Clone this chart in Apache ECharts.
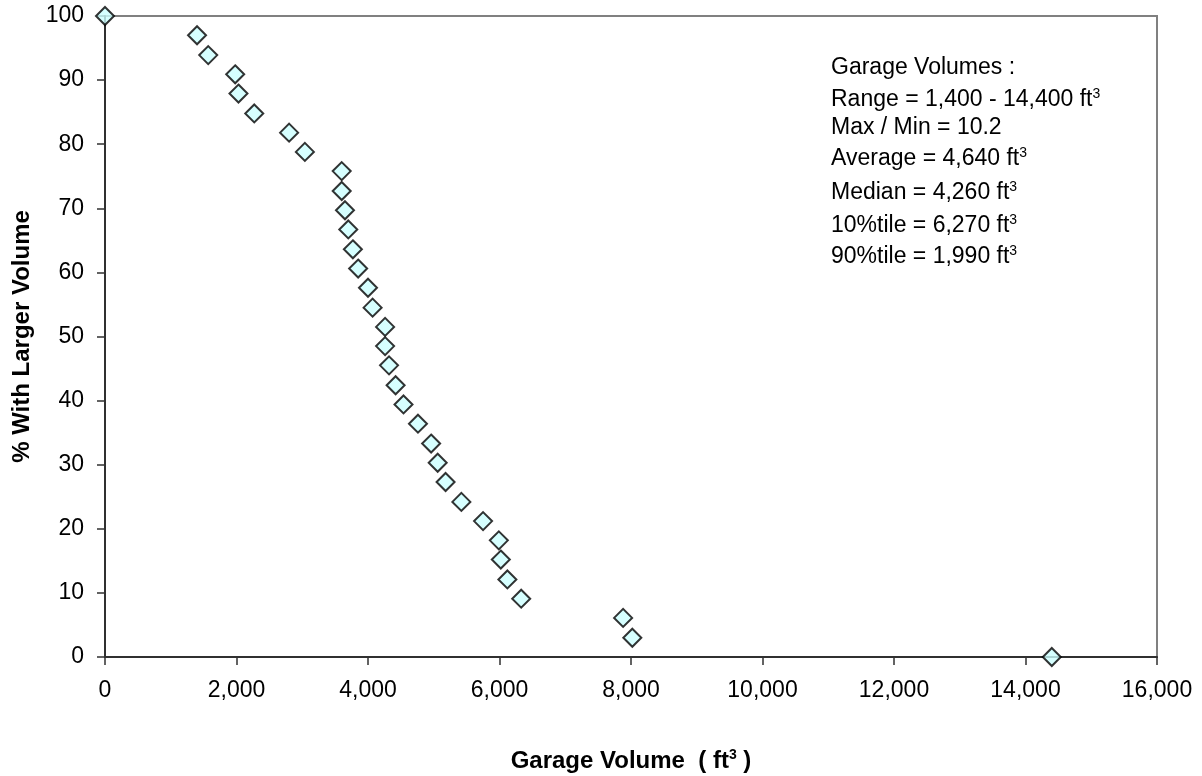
<!DOCTYPE html>
<html>
<head>
<meta charset="utf-8">
<script src="https://cdn.jsdelivr.net/npm/echarts@6/dist/echarts.min.js"></script>
<style>
  html, body { margin: 0; padding: 0; background: #ffffff; }
  #chart { width: 1202px; height: 776px; }
</style>
</head>
<body>
<div id="chart"></div>
<script>
// Garage volume (ft³) of each house, sorted, and the share of houses with a larger garage
const garageVolume = [0, 1400, 1570, 1980, 2030, 2270, 2800, 3040, 3600, 3600, 3650, 3700, 3770, 3850, 4000, 4070, 4260, 4260, 4320, 4420, 4540, 4760, 4960, 5060, 5180, 5420, 5750, 5990, 6020, 6120, 6330, 7880, 8020, 14400];
const pctLarger = [100, 97.0, 93.9, 90.9, 87.9, 84.8, 81.8, 78.8, 75.8, 72.7, 69.7, 66.7, 63.6, 60.6, 57.6, 54.5, 51.5, 48.5, 45.5, 42.4, 39.4, 36.4, 33.3, 30.3, 27.3, 24.2, 21.2, 18.2, 15.2, 12.1, 9.1, 6.1, 3.0, 0];

// Axis ticks
const xTicks = [0, 2000, 4000, 6000, 8000, 10000, 12000, 14000, 16000];
const xTickLabels = ['0', '2,000', '4,000', '6,000', '8,000', '10,000', '12,000', '14,000', '16,000'];
const yTicks = [0, 10, 20, 30, 40, 50, 60, 70, 80, 90, 100];

// Summary statistics block: [text, unit superscript?]
const statLines = [
  ['Garage Volumes :', false],
  ['Range = 1,400 - 14,400 ft', true],
  ['Max / Min = 10.2', false],
  ['Average = 4,640 ft', true],
  ['Median = 4,260 ft', true],
  ['10%tile = 6,270 ft', true],
  ['90%tile = 1,990 ft', true]
];

const FONT = "'Liberation Sans', Arial, sans-serif";
const chart = echarts.init(document.getElementById('chart'), null, { renderer: 'canvas' });

const gridLeft = 105, gridTop = 16, gridRight = 45, gridBottom = 119;
const statY = [68, 100, 128, 159, 193, 226, 257];

const statGraphics = statLines.map(function (line, i) {
  return {
    type: 'text',
    x: 831,
    y: statY[i],
    z: 10,
    style: {
      text: line[0] + (line[1] ? '{sup|3}' : ''),
      font: '23px ' + FONT,
      fill: '#000000',
      verticalAlign: 'middle',
      rich: {
        sup: { fontSize: 14, fontFamily: FONT, verticalAlign: 'top', fill: '#000000', padding: [0, 0, 12, 0] }
      }
    }
  };
});

chart.setOption({
  animation: false,
  backgroundColor: '#ffffff',
  grid: {
    left: gridLeft, right: gridRight, top: gridTop, bottom: gridBottom,
    show: true, borderColor: '#808080', borderWidth: 2,
    containLabel: false, outerBoundsMode: 'none'
  },
  xAxis: {
    type: 'value',
    min: xTicks[0], max: xTicks[xTicks.length - 1], interval: xTicks[1] - xTicks[0],
    name: 'Garage Volume  ( ft{sup|3} )',
    nameLocation: 'middle',
    nameGap: 91,
    nameTextStyle: {
      fontFamily: FONT, fontSize: 24, fontWeight: 'bold', color: '#000000',
      rich: { sup: { fontSize: 14, fontWeight: 'bold', fontFamily: FONT, verticalAlign: 'top', padding: [0, 0, 12, 0] } }
    },
    splitLine: { show: false },
    axisLine: { show: true, onZero: false, lineStyle: { color: '#303030', width: 2 } },
    axisTick: { show: true, inside: false, length: 8, lineStyle: { color: '#303030', width: 1.5 } },
    axisLabel: {
      fontFamily: FONT, fontSize: 23, color: '#000000', margin: 22,
      formatter: function (v) { const k = xTicks.indexOf(v); return k >= 0 ? xTickLabels[k] : ''; }
    }
  },
  yAxis: {
    type: 'value',
    min: yTicks[0], max: yTicks[yTicks.length - 1], interval: yTicks[1] - yTicks[0],
    name: '% With Larger Volume',
    nameLocation: 'middle',
    nameRotate: 90,
    nameGap: 71,
    nameTextStyle: { fontFamily: FONT, fontSize: 24, fontWeight: 'bold', color: '#000000' },
    splitLine: { show: false },
    axisLine: { show: true, onZero: false, lineStyle: { color: '#303030', width: 2 } },
    axisTick: { show: true, inside: false, length: 8, lineStyle: { color: '#303030', width: 1.5 } },
    axisLabel: { fontFamily: FONT, fontSize: 23, color: '#000000', margin: 21 }
  },
  series: [{
    type: 'scatter',
    clip: false,
    symbol: 'diamond',
    symbolSize: 18,
    z: 5,
    itemStyle: { color: '#CCFFFF', borderColor: '#000000', borderWidth: 2 },
    data: garageVolume.map(function (v, i) { return [v, pctLarger[i]]; })
  }],
  graphic: statGraphics
});
</script>
</body>
</html>
